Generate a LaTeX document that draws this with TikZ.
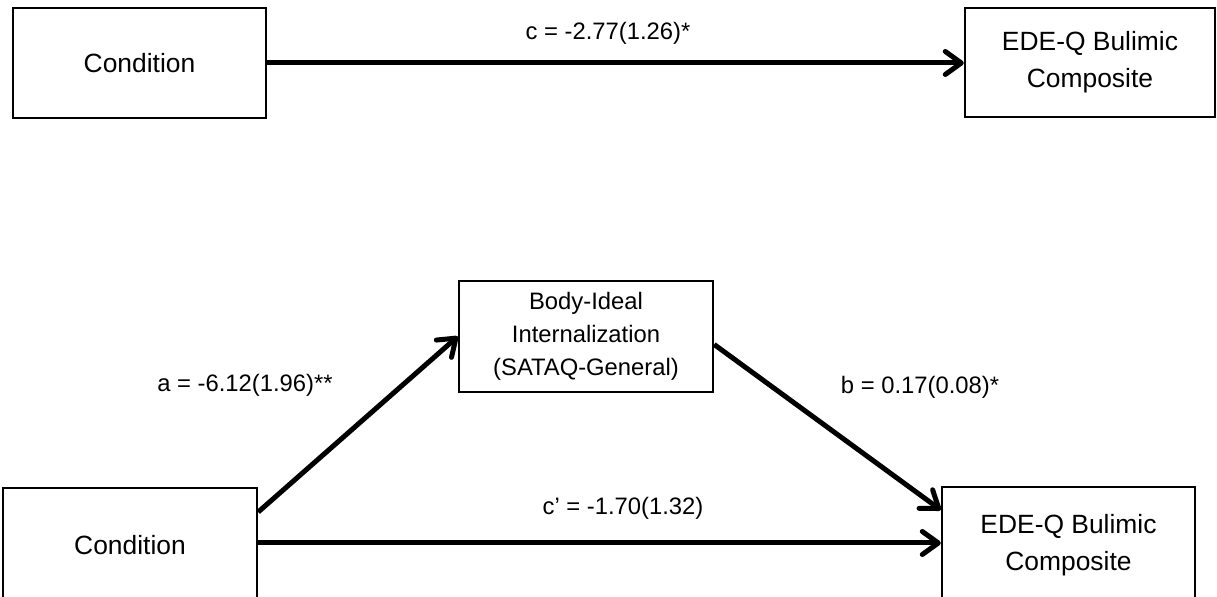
\documentclass[tikz,border=0pt]{standalone}
\usepackage{fontspec}
\setmainfont{Liberation Sans}
\usetikzlibrary{arrows.meta}
\begin{document}
\begin{tikzpicture}[x=0.5pt,y=-0.5pt,
  box/.style={draw, line width=1.2pt, rectangle, inner sep=0pt, align=center,
              font=\fontsize{13.2}{18.5}\selectfont},
  midbox/.style={box, font=\fontsize{11.9}{16.5}\selectfont},
  link/.style={line width=2.5pt, -{Straight Barb[length=8pt,width=11.5pt,round]}},
  coef/.style={font=\fontsize{11.9}{14}\selectfont, inner sep=0pt}]
  \useasboundingbox (0,0) rectangle (1217,597);

  % total effect
  \node[box, minimum width=126.5pt, minimum height=55pt] (cond1) at (139.5,63) {Condition};
  \node[box, minimum width=125pt, minimum height=54.5pt] (ede1) at (1090,62.5) {EDE-Q Bulimic\\Composite};
  \draw[link] (cond1.east) -- (cond1.east -| ede1.west);
  \node[coef] (lc) at (608,33) {c = -2.77(1.26)*};

  % mediation model
  \node[midbox, minimum width=127pt, minimum height=55.5pt] (med) at (586,336.5) {Body-Ideal\\Internalization\\(SATAQ-General)};
  \node[box, minimum width=127pt, minimum height=57pt] (cond2) at (130,545) {Condition};
  \node[box, minimum width=126.5pt, minimum height=58pt] (ede2) at (1068.5,545) {EDE-Q Bulimic\\Composite};

  \draw[link] ([yshift=16.5pt]cond2.east) -- (med.west);
  \draw[link] ([yshift=-4pt]med.east) -- ([yshift=17.5pt]ede2.west);
  \draw[link] ([yshift=1pt]cond2.east) -- ([yshift=1pt]cond2.east -| ede2.west);

  \node[coef] (la) at (245,385) {a = -6.12(1.96)**};
  \node[coef] (lb) at (920,387) {b = 0.17(0.08)*};
  \node[coef] (lcp) at (623,508) {c’ = -1.70(1.32)};
\end{tikzpicture}
\end{document}
